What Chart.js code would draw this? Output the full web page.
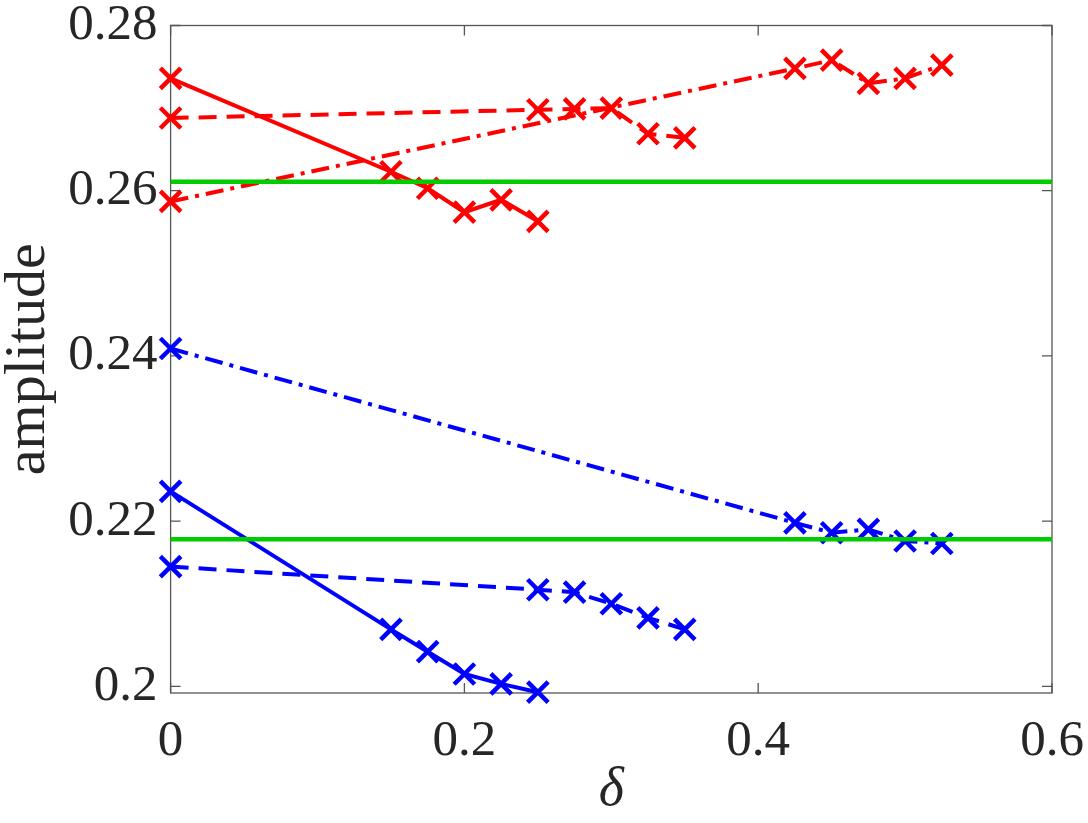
<!DOCTYPE html>
<html>
<head>
<meta charset="utf-8">
<script src="https://cdn.jsdelivr.net/npm/chart.js@4.4.1/dist/chart.umd.min.js"></script>
<style>
  html, body { margin: 0; padding: 0; background: #fff; }
  #wrap { width: 1088px; height: 823px; position: relative; }
</style>
</head>
<body>
<div id="wrap"><canvas id="c" width="1088" height="823"></canvas></div>
<script>
// ---- data ----
const xTicks = [0, 0.2, 0.4, 0.6];
const yTicks = [0.2, 0.22, 0.24, 0.26, 0.28];

const xSolid   = [0, 0.15, 0.175, 0.2, 0.225, 0.25];
const xDashed  = [0, 0.25, 0.275, 0.3, 0.325, 0.35];
const xDashDot = [0, 0.425, 0.45, 0.475, 0.5, 0.525];

const redSolid    = [0.2736, 0.2623, 0.2603, 0.2574, 0.2589, 0.2563];
const redDashed   = [0.2688, 0.2698, 0.2699, 0.2700, 0.2669, 0.2664];
const redDashDot  = [0.2587, 0.2748, 0.2758, 0.2730, 0.2736, 0.2752];

const blueSolid   = [0.2236, 0.2069, 0.2042, 0.2015, 0.2003, 0.1993];
const blueDashed  = [0.2145, 0.2117, 0.2114, 0.2100, 0.2083, 0.2069];
const blueDashDot = [0.2409, 0.2198, 0.2186, 0.2190, 0.2176, 0.2173];

const greenX = [0, 0.6];
const greenUpper = [0.2611, 0.2611];
const greenLower = [0.2178, 0.2178];

const xRange = [0, 0.6];
const yRange = [0.1992, 0.28];

// ---- build chart ----
const pts = (xs, ys) => xs.map((x, i) => ({x: x, y: ys[i]}));
const RED = '#ff0000', BLUE = '#0000ff', GREEN = '#00cc00';
const DASH = [18, 10], DASHDOT = [18, 7, 4, 7];

function series(xs, ys, color, dash) {
  return {
    data: pts(xs, ys),
    borderColor: color,
    backgroundColor: color,
    borderWidth: 4,
    borderDash: dash,
    pointStyle: 'crossRot',
    pointRadius: 14.5,
    pointHoverRadius: 14.5,
    pointBorderWidth: 4.5,
    pointBorderColor: color,
    showLine: true,
    tension: 0,
    clip: false,
    order: 2
  };
}
function hline(ys, color) {
  return {
    data: pts(greenX, ys),
    borderColor: color,
    borderWidth: 4.5,
    pointRadius: 0,
    showLine: true,
    clip: false,
    order: 1
  };
}

const TXT = '#262626';
const FONT = "'Liberation Serif', 'DejaVu Serif', serif";

const boxPlugin = {
  id: 'box',
  beforeDatasetsDraw(chart) {
    const {ctx, chartArea: a, scales} = chart;
    ctx.save();
    ctx.strokeStyle = '#555';
    ctx.lineWidth = 1.3;
    ctx.strokeRect(a.left, a.top, a.right - a.left, a.bottom - a.top);
    const L = 10;
    ctx.beginPath();
    scales.x.ticks.forEach(t => {
      const px = scales.x.getPixelForValue(t.value);
      ctx.moveTo(px, a.bottom); ctx.lineTo(px, a.bottom - L);
      ctx.moveTo(px, a.top); ctx.lineTo(px, a.top + L);
    });
    scales.y.ticks.forEach(t => {
      const py = scales.y.getPixelForValue(t.value);
      ctx.moveTo(a.left, py); ctx.lineTo(a.left + L, py);
      ctx.moveTo(a.right, py); ctx.lineTo(a.right - L, py);
    });
    ctx.stroke();
    ctx.restore();
  }
};

new Chart(document.getElementById('c'), {
  type: 'scatter',
  data: {
    datasets: [
      series(xSolid, redSolid, RED, []),
      series(xDashed, redDashed, RED, DASH),
      series(xDashDot, redDashDot, RED, DASHDOT),
      series(xSolid, blueSolid, BLUE, []),
      series(xDashed, blueDashed, BLUE, DASH),
      series(xDashDot, blueDashDot, BLUE, DASHDOT),
      hline(greenUpper, GREEN),
      hline(greenLower, GREEN)
    ]
  },
  options: {
    responsive: false,
    animation: false,
    devicePixelRatio: 1,
    layout: { padding: { left: 0, right: 36, top: 25.5, bottom: 0 } },
    plugins: { legend: { display: false }, tooltip: { enabled: false } },
    scales: {
      x: {
        type: 'linear',
        min: xRange[0], max: xRange[1],
        afterBuildTicks: s => { s.ticks = xTicks.map(v => ({value: v})); },
        afterFit: s => { s.height = 130; s.paddingLeft = 0; s.paddingRight = 0; },
        grid: { display: false, drawTicks: false },
        border: { display: false },
        ticks: {
          color: TXT, padding: 18,
          font: { family: FONT, size: 51 },
          callback: v => String(v)
        },
        title: {
          display: true, text: 'δ', color: TXT,
          font: { family: FONT, size: 54, style: 'italic' },
          padding: { top: 0, bottom: 0 }
        }
      },
      y: {
        type: 'linear',
        min: yRange[0], max: yRange[1],
        afterBuildTicks: s => { s.ticks = yTicks.map(v => ({value: v})); },
        afterFit: s => { s.width = 170.6; s.paddingTop = 0; s.paddingBottom = 0; },
        grid: { display: false, drawTicks: false },
        border: { display: false },
        ticks: {
          color: TXT, padding: 13,
          font: { family: FONT, size: 51 },
          callback: v => String(Math.round(v * 100) / 100)
        },
        title: {
          display: true, text: 'amplitude', color: TXT,
          font: { family: FONT, size: 58, lineHeight: 1.0 },
          padding: { top: 0, bottom: 0 }
        }
      }
    }
  },
  plugins: [boxPlugin]
});
</script>
</body>
</html>
